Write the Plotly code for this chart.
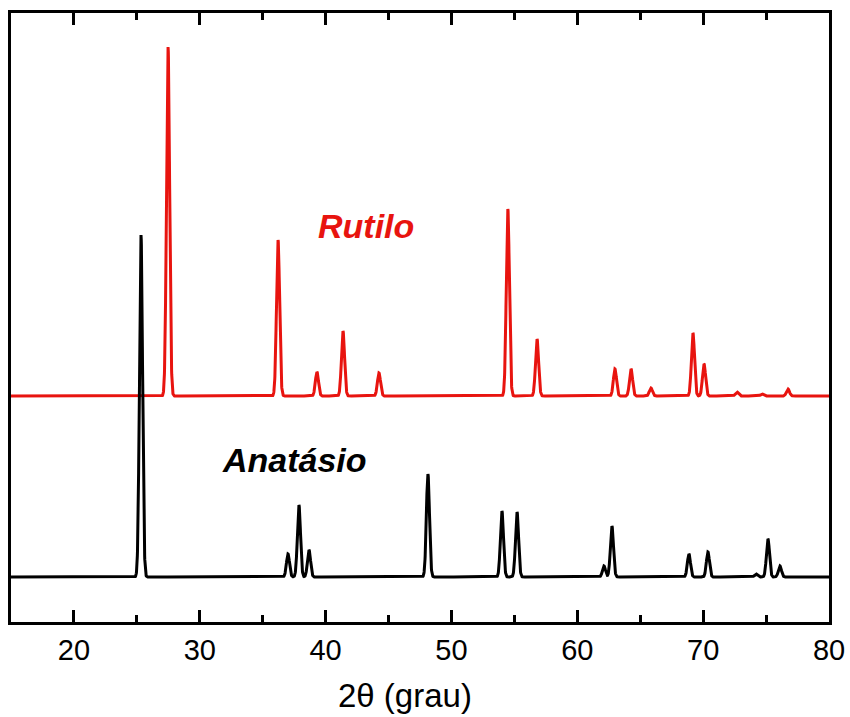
import numpy as np
import plotly.graph_objects as go

# Peak lists (2theta in degrees, relative intensity)
rutilo_pos = [27.48, 36.22, 39.31, 41.38, 44.24, 54.48, 56.80, 62.99, 64.27, 65.85, 69.19, 70.07, 72.69, 74.67, 76.74]
rutilo_int = [349, 156, 24, 65, 23, 187, 57, 27, 27, 8, 63, 32, 4, 2, 7]

anatasio_pos = [25.33, 37.01, 37.88, 38.68, 48.13, 54.01, 55.21, 62.12, 62.75, 68.87, 70.38, 74.20, 75.15, 76.10]
anatasio_int = [342, 23, 72, 27, 103, 66, 65, 11, 51, 23, 25, 3, 38, 11]

rutilo_offset = 181
x_ticks = [20, 30, 40, 50, 60, 70, 80]

two_theta = np.arange(15.0, 80.0001, 0.01)


def pattern(pos, inten, fwhm=0.29):
    sigma = fwhm / 2.3548
    y = np.zeros_like(two_theta)
    for p, h in zip(pos, inten):
        y += h * np.exp(-0.5 * ((two_theta - p) / sigma) ** 2)
    return y


y_rut = pattern(rutilo_pos, rutilo_int) + rutilo_offset
y_ana = pattern(anatasio_pos, anatasio_int)

fig = go.Figure()
fig.add_trace(go.Scatter(x=two_theta, y=y_rut, mode="lines",
                         line=dict(color="#e8140f", width=3), name="Rutilo"))
fig.add_trace(go.Scatter(x=two_theta, y=y_ana, mode="lines",
                         line=dict(color="black", width=3), name="Anatásio"))
# empty trace so the top (mirror) axis with ticks is drawn
fig.add_trace(go.Scatter(x=[], y=[], xaxis="x2", showlegend=False, hoverinfo="skip"))

font_family = "Liberation Sans, Arial, sans-serif"

fig.add_annotation(x=43.2, y=351, text="<b><i>Rutilo</i></b>", showarrow=False,
                   font=dict(family=font_family, size=34, color="#e8140f"))
fig.add_annotation(x=37.55, y=117, text="<b><i>Anatásio</i></b>", showarrow=False,
                   font=dict(family=font_family, size=34, color="black"))
fig.add_annotation(x=0.482, y=-0.121, xref="paper", yref="paper", yanchor="middle",
                   text="2θ (grau)", showarrow=False,
                   font=dict(family=font_family, size=33, color="black"))

common = dict(
    range=[15, 80], tickvals=x_ticks,
    showgrid=False, zeroline=False, automargin=False,
    showline=True, linecolor="black", linewidth=3,
    ticks="inside", ticklen=12, tickwidth=3, tickcolor="black",
    minor=dict(dtick=5, tick0=15, ticks="inside", ticklen=7, tickwidth=2.5,
               tickcolor="black", showgrid=False),
)

fig.update_layout(
    width=850, height=717,
    margin=dict(l=11, r=21, t=13, b=95),
    paper_bgcolor="white", plot_bgcolor="white",
    showlegend=False,
    font=dict(family=font_family, color="black"),
    xaxis=dict(**common, ticktext=[str(v) for v in x_ticks],
               ticklabeloverflow="allow",
               tickfont=dict(family=font_family, size=29, color="black")),
    xaxis2=dict(**common, overlaying="x", side="top", matches="x",
                showticklabels=False),
    yaxis=dict(range=[-45, 564], showticklabels=False, ticks="",
               showgrid=False, zeroline=False, automargin=False,
               showline=True, linecolor="black", linewidth=3, mirror=True),
)

fig.write_html("out.html")
